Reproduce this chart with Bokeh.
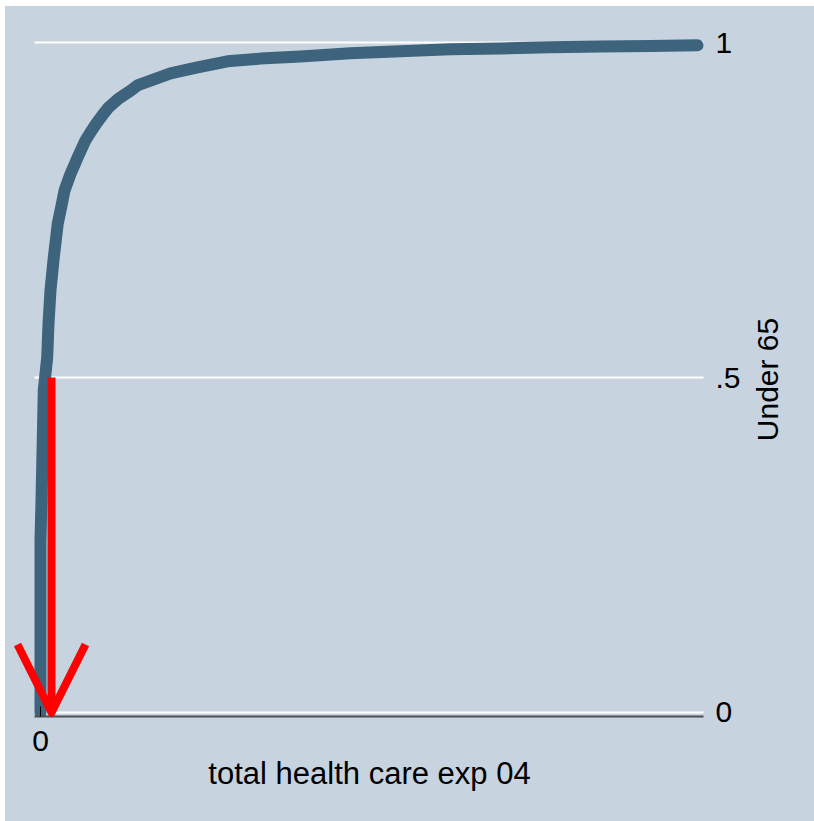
import math
from bokeh.plotting import figure
from bokeh.layouts import column, row
from bokeh.models import FixedTicker, Range1d, Arrow, OpenHead, Spacer
from bokeh.core.properties import value
from bokeh.embed import file_html
from bokeh.resources import INLINE

# Cumulative distribution of total health care expenditure 2004, under 65
exp_values = [0, 0, 150, 500, 1020, 1220, 1520, 2020, 2630, 3150, 3650, 4570,
              5630, 6850, 7610, 8480, 9390, 10350, 11870, 13700, 14760, 16740,
              19790, 23900, 28460, 33480, 39570, 47180, 54790, 62400, 70010,
              77620, 85230, 92840, 100000]
cum_share = [0.0, 0.257, 0.316, 0.481, 0.530, 0.581, 0.630, 0.679, 0.730,
             0.754, 0.779, 0.804, 0.828, 0.854, 0.866, 0.879, 0.891, 0.903,
             0.916, 0.928, 0.936, 0.943, 0.954, 0.963, 0.972, 0.976, 0.979,
             0.984, 0.987, 0.990, 0.991, 0.993, 0.994, 0.995, 0.996]

median_exp = 1675
median_share = 0.5

x_ticks = [0]
y_ticks = [0, 0.5, 1]
y_tick_labels = ["0", ".5", "1"]
x_title = "total health care exp 04"
y_title = "Under 65"

x_lo, x_hi = -913, 100913       # extent of plot region (axis line / grid)
BG = "#C7D3DF"
CURVE = "#3E647D"
FONT = "Liberation Sans"

y_rng = (-0.006, 1.009)

p = figure(width=740, height=815, output_backend="svg", toolbar_location=None,
           x_range=Range1d(-4566, 104718), y_range=Range1d(*y_rng),
           y_axis_location="right",
           min_border_left=5, min_border_right=17,
           min_border_top=30, min_border_bottom=105,
           styles={"background-color": BG})

p.background_fill_color = BG
p.border_fill_color = BG
p.outline_line_color = None

# horizontal grid lines
p.xgrid.visible = False
p.ygrid.visible = False
p.segment(x0=[x_lo] * len(y_ticks), y0=y_ticks, x1=[x_hi] * len(y_ticks),
          y1=y_ticks, line_color="white", line_width=2)

p.line(exp_values, cum_share, line_width=12, color=CURVE,
       line_cap="round", line_join="round")

p.add_layout(Arrow(end=OpenHead(size=68, line_color="red", line_width=8,
                                line_join="miter"),
                   x_start=median_exp, y_start=median_share,
                   x_end=median_exp, y_end=0,
                   line_color="red", line_width=8))

# x axis
xa = p.xaxis[0]
xa.bounds = (x_lo, x_hi)
xa.ticker = FixedTicker(ticks=x_ticks)
xa.axis_label = x_title
xa.axis_label_text_font = FONT
xa.axis_label_text_font_size = "31px"
xa.axis_label_text_font_style = "normal"
xa.axis_label_text_color = "black"
xa.axis_label_standoff = 2
xa.major_label_text_font = FONT
xa.major_label_text_font_size = "30px"
xa.major_label_text_color = "black"
xa.major_label_standoff = 14
xa.axis_line_color = "#4a5058"
xa.axis_line_width = 2
xa.major_tick_in = 10
xa.major_tick_out = 0
xa.major_tick_line_color = "black"
xa.minor_tick_line_color = None

# y axis (right)
ya = p.yaxis[0]
ya.ticker = FixedTicker(ticks=y_ticks)
ya.major_label_overrides = {t: l for t, l in zip(y_ticks, y_tick_labels)}
ya.major_label_text_font = FONT
ya.major_label_text_font_size = "30px"
ya.major_label_text_color = "black"
ya.major_label_standoff = -13
ya.axis_line_color = None
ya.major_tick_line_color = None
ya.minor_tick_line_color = None
ya.major_tick_in = 0
ya.major_tick_out = 0

# y axis title panel, text reading bottom to top
pt = figure(width=69, height=815, output_backend="svg", toolbar_location=None,
            x_range=Range1d(0, 69), y_range=Range1d(*y_rng),
            x_axis_location=None, y_axis_location=None, min_border=0,
            styles={"background-color": BG})
pt.background_fill_color = BG
pt.border_fill_color = BG
pt.outline_line_color = None
pt.grid.visible = False
pt.text(x=[22], y=[0.497], text=[y_title], angle=math.pi / 2,
        text_align="center", text_baseline="middle",
        text_font=value(FONT), text_font_size="30px", text_color="black")

layout = column(Spacer(height=6), row(Spacer(width=5), p, pt))
open("out.html", "w").write(file_html(layout, INLINE))
